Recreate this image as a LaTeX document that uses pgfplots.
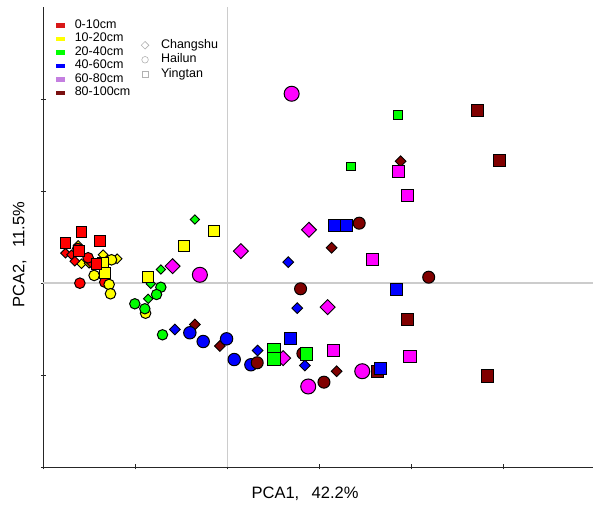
\documentclass[border=0pt]{standalone}
\usepackage{pgfplots}
\pgfplotsset{compat=1.18}
\usepackage{fontspec}
\setmainfont{Liberation Sans}
\definecolor{cRed}{HTML}{FF0000}
\definecolor{cYel}{HTML}{FFFF00}
\definecolor{cGrn}{HTML}{00FF00}
\definecolor{cBlu}{HTML}{0000FF}
\definecolor{cMag}{HTML}{FF00FF}
\definecolor{cMar}{HTML}{800000}
\definecolor{cLegRed}{HTML}{D81818}
\definecolor{cLegMag}{HTML}{C47FE0}
\definecolor{cLegMar}{HTML}{7A1010}
\definecolor{zline}{HTML}{CCCCCC}
\pgfplotsset{
  dia/.style 2 args={only marks, mark=square*, mark size=#2, forget plot,
     mark options={rotate=45, draw=black, fill=#1, line width=0.9pt}},
  cir/.style 2 args={only marks, mark=*, mark size=#2, forget plot,
     mark options={draw=black, fill=#1, line width=1pt}},
  sqr/.style 2 args={only marks, mark=square*, mark size=#2, forget plot,
     mark options={draw=black, fill=#1, line width=1pt}},
  colleg/.style={legend image code/.code={\fill[#1, draw=none] (0pt,-2.4pt) rectangle (9.5pt,2.4pt); \path[draw=none, fill=none] (0pt,0pt) -- (19pt,0pt);}},
}
\begin{document}
\begin{tikzpicture}
\begin{axis}[
  name=ax,
  scale only axis, width=549.5pt, height=460pt,
  xmin=-2, xmax=3.97, ymin=-2, ymax=3,
  axis x line*=bottom, axis y line*=left,
  axis line style={black!85, line width=0.8pt},
  xtick={-2,-1,0,1,2,3}, ytick={-2,-1,0,1,2},
  xticklabels={}, yticklabels={},
  tick align=center, major tick length=5pt,
  tick style={black!85, line width=0.8pt},
  xlabel={PCA1,\hspace{0.75em}42.2\%}, ylabel={PCA2,\hspace{0.75em}11.5\%},
  label style={font=\fontsize{16.5}{19}\selectfont},
  xlabel style={at={(axis description cs:0.476,-0.0587)}, anchor=center},
  ylabel style={at={(axis description cs:-0.0433,0.461)}, anchor=center},
  legend style={at={(axis description cs:0.022,0.975)}, anchor=north west,
     draw=none, fill=none, font=\fontsize{12.5}{14}\selectfont,
     row sep=0pt, inner sep=0pt,
     nodes={inner sep=0pt, text height=9.5pt, text depth=4pt}},
  legend cell align=left,
  clip=false,
]
\addplot[zline, line width=1.2pt, forget plot] coordinates {(-2,0) (3.97,0)};
\addplot[zline, line width=1.2pt, forget plot] coordinates {(0,-2) (0,3)};

\addlegendimage{colleg=cLegRed}\addlegendentry{0-10cm}
\addlegendimage{colleg=cYel}\addlegendentry{10-20cm}
\addlegendimage{colleg=cGrn}\addlegendentry{20-40cm}
\addlegendimage{colleg=cBlu}\addlegendentry{40-60cm}
\addlegendimage{colleg=cLegMag}\addlegendentry{60-80cm}
\addlegendimage{colleg=cLegMar}\addlegendentry{80-100cm}

% ---- Changshu (diamonds)
\addplot[dia={cMar}{3.8}] table {
x y
-0.355 -0.451
-0.084 -0.685
1.130 0.383
1.880 1.324
1.185 -0.959
};
\addplot[dia={cMag}{5.3}] table {
x y
-0.598 0.183
0.145 0.346
0.884 0.578
1.087 -0.263
0.604 -0.817
};
\addplot[dia={cBlu}{3.8}] table {
x y
-0.573 -0.505
0.326 -0.734
0.659 0.226
0.757 -0.274
0.840 -0.897
};
\addplot[dia={cGrn}{3.3}] table {
x y
-0.355 0.690
-0.725 0.147
-0.834 -0.009
-0.863 -0.172
};
\addplot[dia={cYel}{3.4}] table {
x y
-1.624 0.408
-1.587 0.209
-1.504 0.215
-1.352 0.307
-1.200 0.263
};
\addplot[dia={cRed}{3.4}] table {
x y
-1.761 0.324
-1.696 0.307
-1.660 0.237
-1.486 0.223
};
% ---- Hailun (circles)
\addplot[cir={cRed}{5.3}] table {
x y
-1.627 0.375
-1.515 0.274
-1.605 -0.002
-1.334 0.009
};
\addplot[cir={cYel}{5.3}] table {
x y
-1.261 0.252
-1.450 0.082
-1.287 -0.016
-1.272 -0.117
-0.891 -0.328
};
\addplot[cir={cGrn}{5.2}] table {
x y
-0.725 -0.046
-0.772 -0.125
-1.008 -0.226
-0.899 -0.280
-0.707 -0.563
};
\addplot[cir={cBlu}{6.2}] table {
x y
-0.410 -0.541
-0.265 -0.636
-0.011 -0.607
0.072 -0.832
0.253 -0.889
};
\addplot[cir={cMag}{7.5}] table {
x y
-0.301 0.089
0.696 2.057
0.876 -1.125
1.463 -0.959
};
\addplot[cir={cMar}{6.0}] table {
x y
0.322 -0.867
0.793 -0.063
0.818 -0.766
1.047 -1.078
1.430 0.650
2.185 0.063
};
% ---- Yingtan (squares)
\addplot[sqr={cMar}{6.2}] table {
x y
2.713 1.875
2.952 1.332
1.952 -0.400
1.630 -0.959
2.822 -1.013
};
\addplot[sqr={cMag}{6.2}] table {
x y
1.854 1.212
1.957 0.951
1.572 0.255
1.148 -0.734
1.982 -0.799
};
\addplot[sqr={cBlu}{6.0}] table {
x y
1.166 0.625
1.293 0.625
0.688 -0.600
1.837 -0.074
1.663 -0.926
};
\addplot[sqr={cGrn}{6.2}] table {
x y
0.503 -0.726
0.503 -0.824
0.859 -0.770
};
\addplot[sqr={cGrn}{4.4}] table {
x y
1.340 1.266
1.848 1.828
};
\addplot[sqr={cYel}{5.4}] table {
x y
-1.355 0.223
-1.334 0.111
-0.863 0.063
-0.475 0.404
-0.146 0.563
};
\addplot[sqr={cRed}{5.4}] table {
x y
-1.587 0.552
-1.761 0.433
-1.388 0.454
-1.613 0.346
-1.424 0.209
};
\end{axis}
\begin{axis}[
  at={(ax.south west)}, anchor=south west,
  scale only axis, width=549.5pt, height=460pt,
  xmin=-2, xmax=3.97, ymin=-2, ymax=3,
  hide axis,
  legend style={at={(axis description cs:0.177,0.933)}, anchor=north west,
     draw=none, fill=none, font=\fontsize{12.5}{14}\selectfont,
     row sep=0pt, inner sep=0pt,
     nodes={inner sep=0pt, text height=10pt, text depth=4.5pt}},
  legend cell align=left,
]
\addlegendimage{legend image code/.code={\draw[black!30, line width=0.6pt, fill=white] (4pt,3.8pt) -- (7.8pt,0pt) -- (4pt,-3.8pt) -- (0.2pt,0pt) -- cycle; \path[draw=none, fill=none] (0pt,0pt) -- (20pt,0pt);}}
\addlegendentry{Changshu}
\addlegendimage{legend image code/.code={\draw[black!30, line width=0.6pt, fill=white] (4pt,0pt) circle (3.3pt); \path[draw=none, fill=none] (0pt,0pt) -- (20pt,0pt);}}
\addlegendentry{Hailun}
\addlegendimage{legend image code/.code={\draw[black!30, line width=0.6pt, fill=white] (1pt,-3pt) rectangle (7pt,3pt); \path[draw=none, fill=none] (0pt,0pt) -- (20pt,0pt);}}
\addlegendentry{Yingtan}
\addplot[draw=none, forget plot] coordinates {(0,0)};
\end{axis}
\pgfresetboundingbox
\path ([shift={(-43.5pt,-41pt)}]ax.south west) rectangle ([shift={(0pt,7pt)}]ax.north east);
\end{tikzpicture}
\end{document}
